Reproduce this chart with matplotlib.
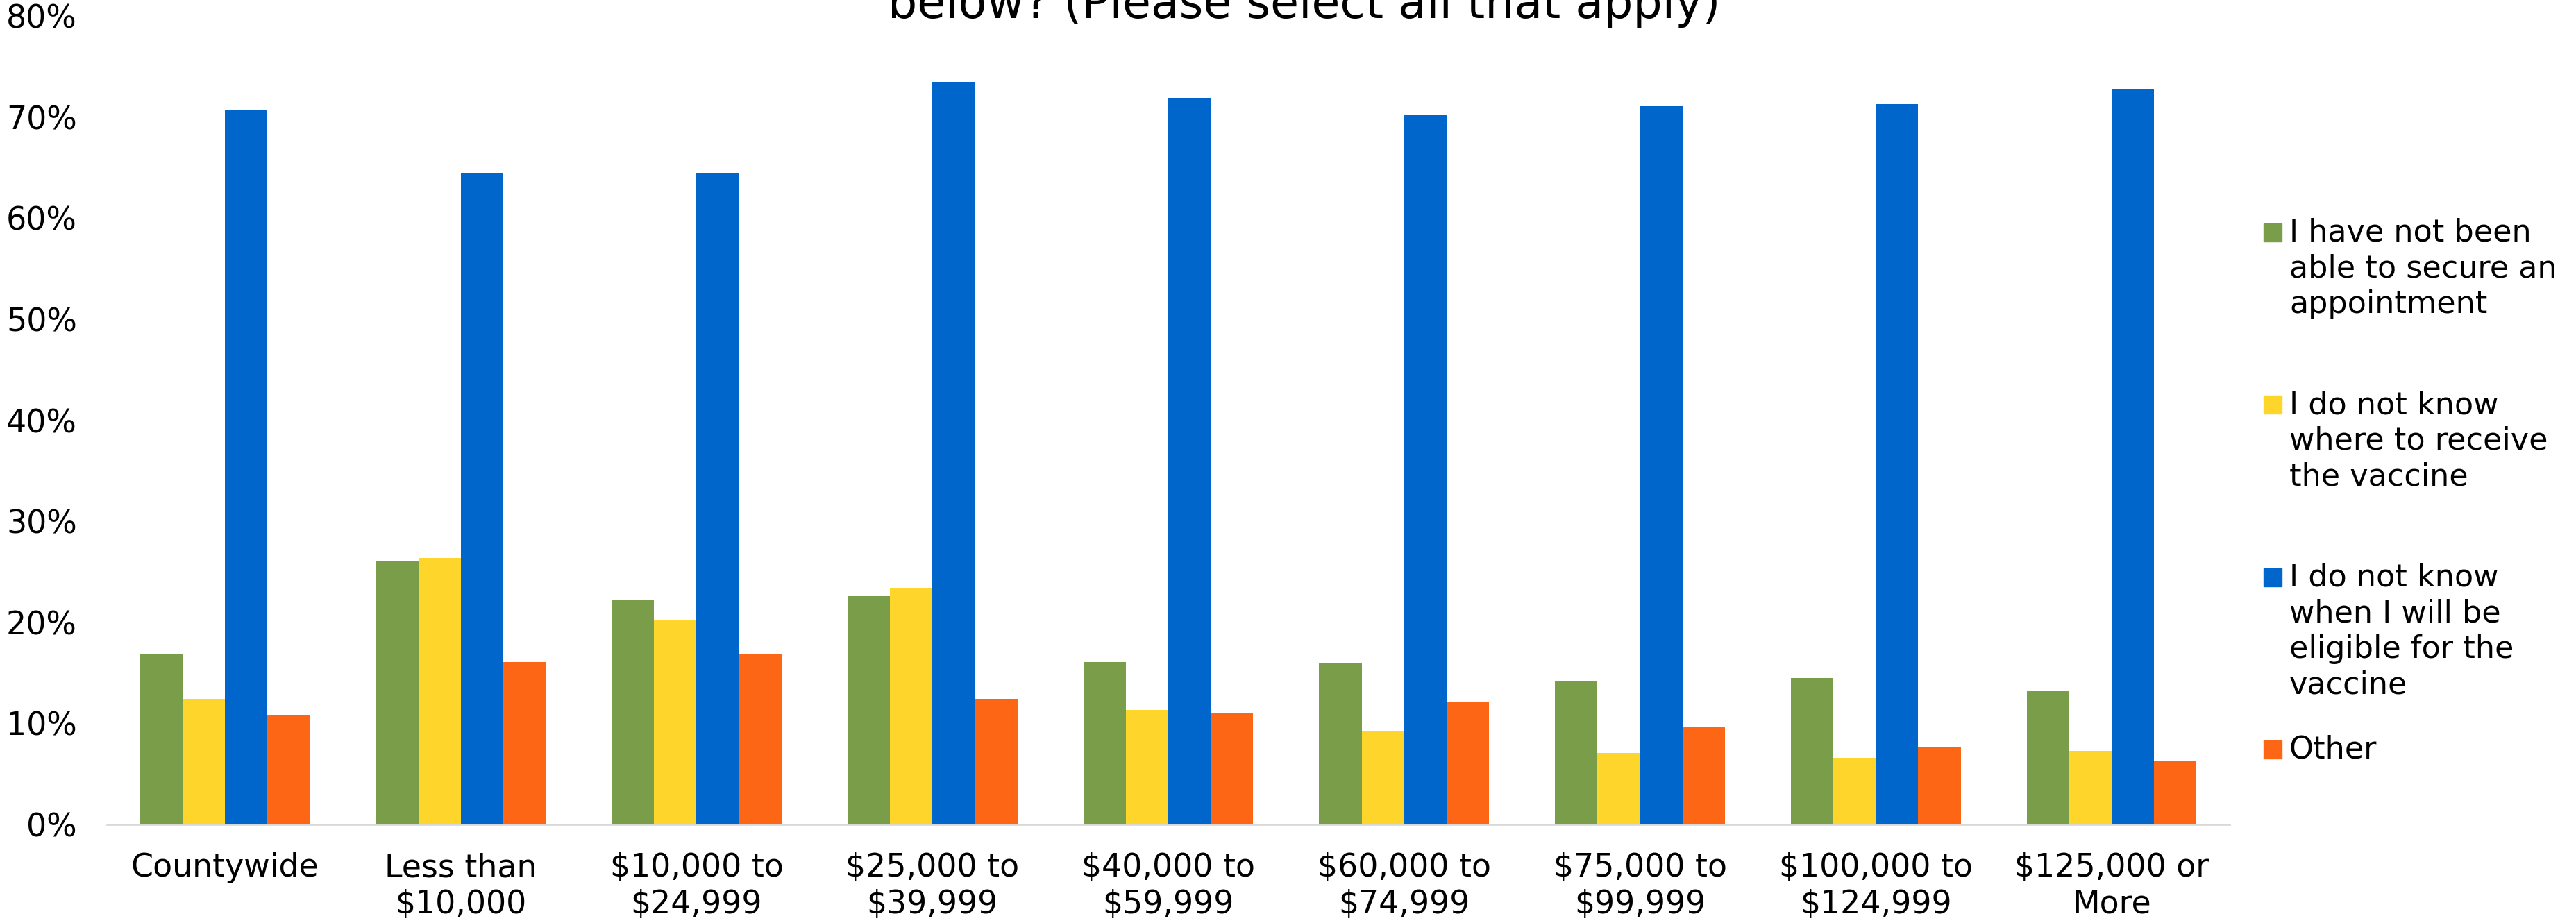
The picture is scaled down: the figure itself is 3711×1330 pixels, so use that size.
import matplotlib
matplotlib.use("Agg")
import matplotlib.pyplot as plt
import numpy as np
from matplotlib.patches import Rectangle

plt.rcParams['font.family'] = ['DejaVu Sans']

categories = ["Countywide", "Less than\n$10,000", "$10,000 to\n$24,999", "$25,000 to\n$39,999",
              "$40,000 to\n$59,999", "$60,000 to\n$74,999", "$75,000 to\n$99,999",
              "$100,000 to\n$124,999", "$125,000 or\nMore"]
series_names = ["I have not been\nable to secure an\nappointment",
                "I do not know\nwhere to receive\nthe vaccine",
                "I do not know\nwhen I will be\neligible for the\nvaccine",
                "Other"]
no_appointment = [16.9, 26.1, 22.2, 22.6, 16.1, 15.9, 14.2, 14.5, 13.2]
not_where = [12.4, 26.4, 20.2, 23.4, 11.3, 9.3, 7.1, 6.6, 7.3]
not_when = [70.7, 64.4, 64.4, 73.5, 71.9, 70.2, 71.1, 71.3, 72.8]
other = [10.8, 16.1, 16.8, 12.4, 11.0, 12.1, 9.6, 7.7, 6.3]
colors = ["#7A9D4A", "#FDD52B", "#0066CC", "#FC6614"]
y_ticks = [0, 10, 20, 30, 40, 50, 60, 70, 80]

W, H = 3711, 1330
fig = plt.figure(figsize=(W / 100, H / 100), dpi=100)
ax = fig.add_axes([154 / W, 1 - 1188 / H, (3212 - 154) / W, (1188 - 23) / H])

x = np.arange(len(categories))
bw = 0.18
data = [no_appointment, not_where, not_when, other]
for i, (vals, c) in enumerate(zip(data, colors)):
    ax.bar(x + (i - 1.5) * bw, vals, width=bw, color=c, edgecolor='none')

ax.set_xlim(-0.5, len(categories) - 0.5)
ax.set_ylim(0, 80)
ax.set_yticks(y_ticks)
ax.set_yticklabels([f"{t}%" for t in y_ticks], fontsize=33)
ax.set_xticks(x)
ax.set_xticklabels(categories, linespacing=1.22, fontsize=33)
ax.tick_params(axis='both', length=0, colors='black')
ax.tick_params(axis='y', pad=31)
ax.tick_params(axis='x', pad=29)
for s in ['top', 'right', 'left']:
    ax.spines[s].set_visible(False)
ax.spines['bottom'].set_color('#D9D9D9')
ax.spines['bottom'].set_linewidth(2)

fig.text(1879 / W, 1 - 26 / H, "below? (Please select all that apply)", ha='center', va='baseline', fontsize=48)

# legend (manual, equal slots)
sq = 26
for i, (name, c) in enumerate(zip(series_names, colors)):
    top = 322 + i * 248.3
    fig.patches.append(Rectangle((3261 / W, 1 - (top + sq) / H), sq / W, sq / H,
                                 transform=fig.transFigure, color=c))
    fig.text(3298 / W, 1 - (top - 8) / H, name, ha='left', va='top', fontsize=32, linespacing=1.25)

fig.savefig("out.png", dpi=100)
